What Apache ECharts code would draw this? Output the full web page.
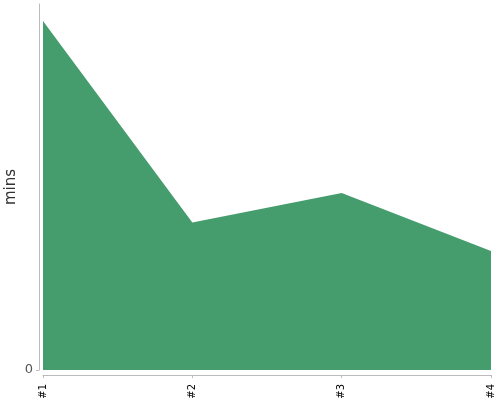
<!DOCTYPE html>
<html>
<head>
<meta charset="utf-8">
<script src="https://cdn.jsdelivr.net/npm/echarts@6/dist/echarts.min.js"></script>
<style>
  html, body { margin: 0; padding: 0; background: #fff; }
</style>
</head>
<body>
<div id="main" style="width: 500px; height: 400px;"></div>
<script>
// data
const categories = ['#1', '#2', '#3', '#4'];
const minutes = [34.9, 14.75, 17.7, 11.9];
const yMax = 36.6;

const myChart = echarts.init(document.getElementById('main'));
const option = {
  animation: false,
  grid: { left: 43, right: 9, top: 4, bottom: 30, outerBoundsMode: 'none' },
  xAxis: {
    type: 'category',
    boundaryGap: false,
    data: categories,
    offset: 5,
    axisLine: { onZero: false, lineStyle: { color: '#bbb', width: 1 } },
    axisTick: { length: 3, lineStyle: { color: '#bbb' } },
    axisLabel: {
      rotate: 90,
      color: '#000',
      fontSize: 10,
      margin: 9,
      fontFamily: 'DejaVu Sans'
    }
  },
  yAxis: {
    type: 'value',
    min: 0,
    max: yMax,
    offset: 4,
    name: 'mins',
    nameLocation: 'middle',
    nameGap: 20,
    nameMoveOverlap: false,
    nameTextStyle: { color: '#333', fontSize: 15, fontFamily: 'DejaVu Sans' },
    splitLine: { show: false },
    axisLine: { show: true, lineStyle: { color: '#bbb', width: 1 } },
    axisTick: { show: true, length: 3, customValues: [0], lineStyle: { color: '#bbb' } },
    axisLabel: {
      customValues: [0],
      color: '#555',
      fontSize: 13,
      margin: 6,
      fontFamily: 'DejaVu Sans',
      verticalAlign: 'middle',
      padding: [4, 0, 0, 0]
    }
  },
  series: [
    {
      type: 'line',
      data: minutes,
      symbol: 'none',
      lineStyle: { width: 0 },
      areaStyle: { color: '#459c6c', opacity: 1 }
    }
  ]
};
myChart.setOption(option);
</script>
</body>
</html>
